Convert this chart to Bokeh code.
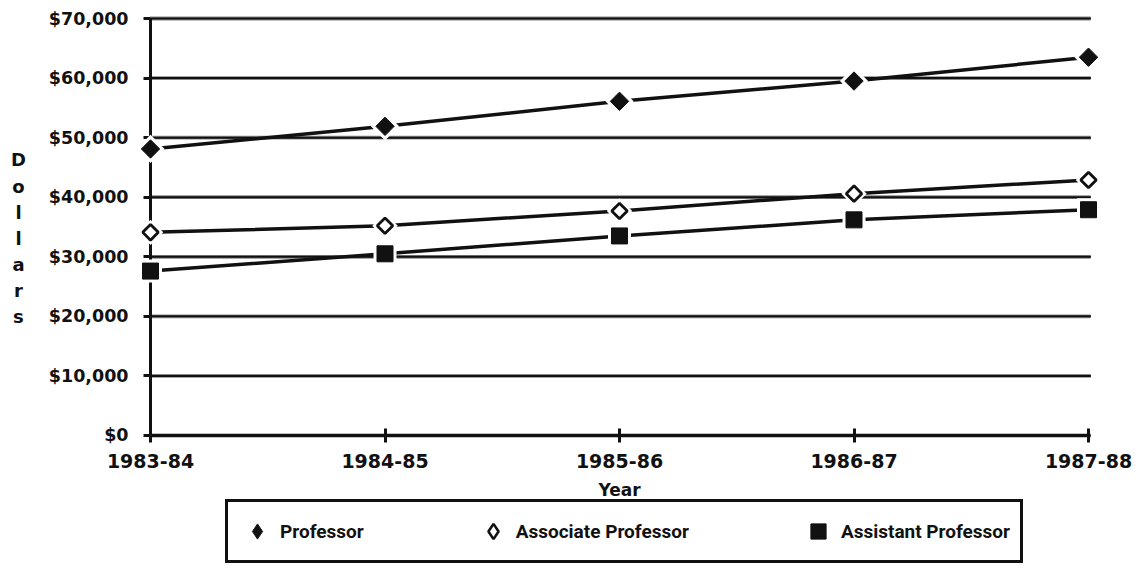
from bokeh.plotting import figure
from bokeh.models import (Range1d, FixedTicker, NumeralTickFormatter, Legend,
                          LegendItem, Label)
from bokeh.embed import file_html
from bokeh.resources import INLINE

# ---- data ----
years = ["1983-84", "1984-85", "1985-86", "1986-87", "1987-88"]
professor = [48100, 51900, 56100, 59500, 63500]
associate = [34100, 35200, 37700, 40600, 42900]
assistant = [27600, 30500, 33500, 36200, 37900]
yticks = [0, 10000, 20000, 30000, 40000, 50000, 60000, 70000]
series_names = ["Professor", "Associate Professor", "Assistant Professor"]

x = list(range(len(years)))
INK = "#111111"

# frame covers the whole canvas; axes are pinned with fixed_location
p = figure(width=1132, height=564,
           x_range=Range1d(-0.6397, 4.1876), y_range=Range1d(-21655, 73022),
           output_backend="svg", toolbar_location=None,
           min_border_left=0, min_border_right=0,
           min_border_top=0, min_border_bottom=0)
p.title.visible = False
p.outline_line_color = None
p.xgrid.visible = False
p.ygrid.visible = False
p.background_fill_color = "white"
p.border_fill_color = "white"

# x axis
xa = p.xaxis[0]
xa.fixed_location = 0
xa.ticker = FixedTicker(ticks=x)
xa.major_label_overrides = {i: lab for i, lab in enumerate(years)}
xa.bounds = (x[0], x[-1])
xa.axis_line_width = 3
xa.axis_line_color = INK
xa.major_tick_in = 7
xa.major_tick_out = 7
xa.major_tick_line_width = 3
xa.major_tick_line_color = INK
xa.minor_tick_line_color = None
xa.major_label_text_font = "DejaVu Sans"
xa.major_label_text_font_style = "bold"
xa.major_label_text_font_size = "19px"
xa.major_label_text_color = INK
xa.major_label_standoff = 12
xa.axis_label = "Year"
xa.axis_label_text_font = "DejaVu Sans"
xa.axis_label_text_font_style = "bold"
xa.axis_label_text_font_size = "17px"
xa.axis_label_text_color = INK
xa.axis_label_standoff = 8

# y axis
ya = p.yaxis[0]
ya.fixed_location = 0
ya.level = "underlay"
ya.ticker = FixedTicker(ticks=yticks)
ya.formatter = NumeralTickFormatter(format="$0,0")
ya.bounds = (yticks[0], yticks[-1])
ya.axis_line_width = 3
ya.axis_line_color = INK
ya.major_tick_in = 0
ya.major_tick_out = 7
ya.major_tick_line_width = 3
ya.major_tick_line_color = INK
ya.minor_tick_line_color = None
ya.major_label_standoff = 15
ya.major_label_text_font = "DejaVu Sans"
ya.major_label_text_font_style = "bold"
ya.major_label_text_font_size = "17.5px"
ya.major_label_text_color = INK

# grid lines (serrated look: solid core + dotted fringe)
gx0 = [x[0]] * len(yticks)
gx1 = [x[-1] + 0.01] * len(yticks)
p.segment(x0=gx0, y0=yticks, x1=gx1, y1=yticks, line_color=INK, line_width=2.0)
p.segment(x0=gx0, y0=yticks, x1=gx1, y1=yticks, line_color=INK, line_width=3.8,
          line_dash="1 1")

# series
specs = [
    (professor, dict(marker="square", angle=0.785398, size=13, fill_color=INK,
                     line_color=INK, line_width=1),
     dict(marker="diamond", fill_color=INK, line_color=INK, line_width=1)),
    (associate, dict(marker="square", angle=0.785398, size=11, fill_color="white",
                     line_color=INK, line_width=2.8),
     dict(marker="diamond", fill_color="white", line_color=INK, line_width=2.6)),
    (assistant, dict(marker="square", angle=0, size=16, fill_color=INK,
                     line_color=INK, line_width=1),
     dict(marker="square", fill_color=INK, line_color=INK, line_width=1)),
]
items = []
for name, (vals, st, lg) in zip(series_names, specs):
    p.line(x, vals, line_color=INK, line_width=3.5)
    p.scatter(x, vals, marker=st["marker"], angle=st["angle"], size=st["size"] + 7,
              fill_color="white", line_color=None)
    p.scatter(x, vals, **st)
    # legend swatch only: kept far outside the visible range
    key = p.scatter(x=[x[0]], y=[-1e7], **lg)
    items.append(LegendItem(label=name, renderers=[key]))

legend = Legend(items=items, orientation="horizontal", location=(225, 1),
                spacing=110, padding=10, margin=0,
                border_line_color=INK, border_line_width=3, border_line_alpha=1,
                background_fill_color="white", background_fill_alpha=1,
                glyph_width=38, glyph_height=38, label_height=38,
                label_standoff=4,
                label_text_font="Roboto",
                label_text_font_style="bold", label_text_font_size="19px",
                label_text_color=INK)
p.add_layout(legend)

# stacked "Dollars" title
p.add_layout(Label(x=-0.563, y=48010, text="D\no\nl\nl\na\nr\ns",
                   text_align="center", text_baseline="top",
                   text_font="DejaVu Sans", text_font_style="bold",
                   text_font_size="18px", text_line_height=1.245,
                   text_color=INK))

open("out.html", "w").write(file_html(p, INLINE))
